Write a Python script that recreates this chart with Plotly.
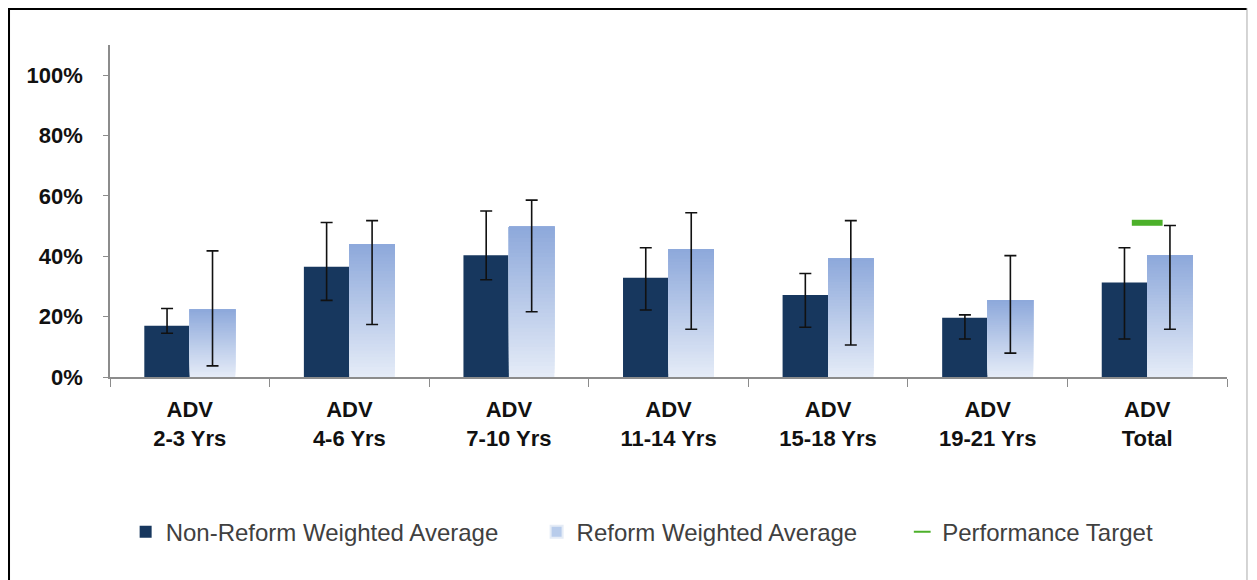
import plotly.graph_objects as go

categories = ["ADV<br>2-3 Yrs", "ADV<br>4-6 Yrs", "ADV<br>7-10 Yrs", "ADV<br>11-14 Yrs",
              "ADV<br>15-18 Yrs", "ADV<br>19-21 Yrs", "ADV<br>Total"]

nonreform = [0.170, 0.365, 0.403, 0.329, 0.272, 0.196, 0.313]
nonreform_hi = [0.227, 0.512, 0.550, 0.428, 0.343, 0.206, 0.428]
nonreform_lo = [0.145, 0.254, 0.322, 0.222, 0.165, 0.126, 0.126]

reform = [0.224, 0.440, 0.498, 0.424, 0.393, 0.255, 0.403]
reform_hi = [0.418, 0.518, 0.586, 0.544, 0.518, 0.402, 0.502]
reform_lo = [0.037, 0.174, 0.216, 0.158, 0.106, 0.079, 0.158]

target_cat = ["ADV<br>Total"]
target_val = [0.511]

y_ticks = [0, 0.2, 0.4, 0.6, 0.8, 1.0]

DARK = "#17375E"
TOP_C = (142, 169, 219)
BOT_C = (228, 235, 247)
FONT = "Liberation Sans, Arial, sans-serif"

fig = go.Figure()

# Non-reform bars with error bars
fig.add_trace(go.Bar(
    x=categories, y=nonreform, name="Non-Reform Weighted Average" + "\u00a0" * 5,
    marker=dict(color=DARK, line=dict(width=0)), offsetgroup="a",
    error_y=dict(type="data", symmetric=False,
                 array=[h - v for h, v in zip(nonreform_hi, nonreform)],
                 arrayminus=[v - l for v, l in zip(nonreform, nonreform_lo)],
                 color="#111111", thickness=1.6, width=6),
))

# Reform bars drawn as overlapping gradient layers (each from its base to the top)
N = 40
for k in range(N):
    t = k / (N - 1)
    c = tuple(round(BOT_C[i] + (TOP_C[i] - BOT_C[i]) * t) for i in range(3))
    col = "rgb(%d,%d,%d)" % c
    fig.add_trace(go.Bar(
        x=categories, y=[v * (1 - k / N) for v in reform], base=[v * k / N for v in reform],
        marker=dict(color=col, line=dict(width=0)), offsetgroup="b",
        name="Reform Weighted Average", showlegend=False, hoverinfo="skip",
    ))

# error bars for reform series (transparent carrier bar)
fig.add_trace(go.Bar(
    x=categories, y=reform, name="Reform Weighted Average",
    marker=dict(color="rgba(184,204,235,0)", line=dict(width=0)), offsetgroup="b",
    error_y=dict(type="data", symmetric=False,
                 array=[h - v for h, v in zip(reform_hi, reform)],
                 arrayminus=[v - l for v, l in zip(reform, reform_lo)],
                 color="#111111", thickness=1.6, width=6),
    showlegend=False,
))
fig.add_trace(go.Bar(
    x=[None], y=[None], name="Reform Weighted Average" + "\u00a0" * 6,
    marker=dict(color="#B8CCEB"), offsetgroup="b",
))

fig.add_trace(go.Scatter(
    x=target_cat, y=target_val, mode="markers", name="Performance Target",
    marker=dict(symbol="line-ew", size=22, line=dict(color="#4CB02A", width=6)),
))

# chart border
fig.add_shape(type="line", xref="paper", yref="paper", x0=-0.0913, x1=1.0179, y0=1.1114, y1=1.1114,
              line=dict(color="black", width=4))
fig.add_shape(type="line", xref="paper", yref="paper", x0=-0.0913, x1=-0.0913, y0=1.1114, y1=-0.65,
              line=dict(color="black", width=4))
fig.add_shape(type="line", xref="paper", yref="paper", x0=1.0179, x1=1.0179, y0=1.1114, y1=-0.65,
              line=dict(color="#AAAAAA", width=1))

fig.update_layout(
    width=1249, height=572,
    margin=dict(l=102, r=30, t=37, b=203),
    paper_bgcolor="white", plot_bgcolor="white",
    barmode="group", bargap=0.43, bargroupgap=0,
    font=dict(family=FONT, color="#111111"),
    showlegend=True,
    legend=dict(orientation="h", x=0.014, xanchor="left", y=-0.467, yanchor="middle",
                font=dict(size=24, color="#404040"), traceorder="normal",
                itemsizing="constant"),
    xaxis=dict(showline=True, linecolor="#8C8C8C", linewidth=1.5, ticks="outside",
               tickson="boundaries", ticklen=8, tickcolor="#8C8C8C",
               ticklabelstandoff=12,
               tickfont=dict(size=22, color="#111111", family=FONT, weight="bold"),
               showgrid=False, zeroline=False),
    yaxis=dict(range=[0, 1.1], tickvals=y_ticks, tickformat=".0%", showline=True,
               linecolor="#8C8C8C", linewidth=1.5, ticks="outside", ticklen=5,
               tickcolor="#8C8C8C", showgrid=False, zeroline=False,
               ticklabelstandoff=16,
               tickfont=dict(size=22, color="#111111", family=FONT, weight="bold")),
)

fig.write_html("out.html")
